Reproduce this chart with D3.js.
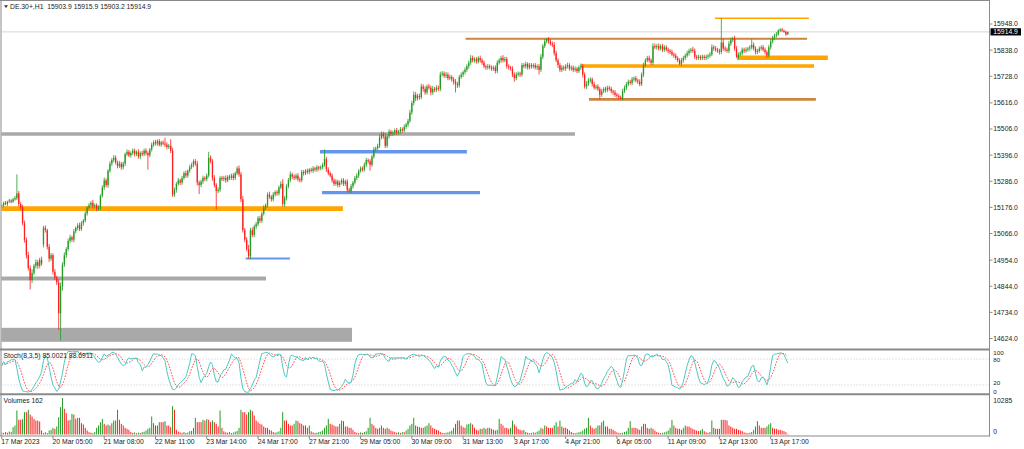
<!DOCTYPE html>
<html><head><meta charset="utf-8">
<script src="https://cdn.jsdelivr.net/npm/d3@7"></script>
<style>html,body{margin:0;padding:0;background:#fff;overflow:hidden}svg{display:block}text{font-family:"Liberation Sans",Arial,sans-serif}</style>
</head><body><svg id="c" width="1024" height="449"></svg>
<script>
// ---------------- DATA ----------------
const symbol = "DE.30+,H1";
const lastBar = {o:15903.9, h:15915.9, l:15903.2, c:15914.9};
const closes = [
15185,15195,15190,15200,15205,15200,15210,15215,15235,15190,
15175,15110,15040,14975,14920,14870,14900,14930,14945,14930,
14955,14940,15090,15080,15010,14960,14975,14905,14880,14860,
14730,14845,14935,14975,15000,15035,15050,15040,15075,15090,
15100,15085,15110,15120,15150,15175,15185,15195,15180,15185,
15170,15175,15225,15260,15290,15270,15330,15360,15375,15385,
15365,15350,15360,15345,15360,15400,15410,15395,15405,15415,
15400,15410,15390,15405,15400,15415,15405,15395,15420,15440,
15450,15445,15455,15440,15450,15445,15440,15430,15435,15415,
15230,15250,15275,15290,15280,15300,15320,15310,15330,15345,
15355,15370,15360,15280,15270,15285,15300,15295,15310,15385,
15370,15300,15270,15245,15250,15300,15295,15300,15290,15305,
15300,15310,15300,15320,15340,15315,15210,15080,15040,15000,
14970,15080,15060,15095,15105,15130,15120,15150,15175,15185,
15230,15220,15210,15230,15240,15235,15260,15275,15190,15215,
15265,15290,15315,15305,15300,15310,15295,15290,15325,15320,
15330,15325,15335,15330,15340,15335,15345,15340,15345,15355,
15380,15335,15320,15310,15290,15275,15285,15270,15280,15290,
15275,15285,15250,15245,15265,15280,15300,15310,15330,15340,
15335,15355,15375,15370,15355,15390,15420,15425,15435,15470,
15485,15475,15435,15475,15495,15485,15490,15500,15490,15495,
15505,15500,15515,15525,15540,15575,15615,15650,15635,15645,
15640,15685,15675,15660,15685,15680,15660,15675,15670,15680,
15675,15735,15740,15730,15735,15720,15725,15715,15705,15695,
15690,15725,15735,15745,15755,15770,15785,15805,15795,15800,
15790,15805,15795,15785,15770,15765,15770,15765,15760,15765,
15750,15785,15795,15805,15795,15800,15770,15765,15760,15735,
15720,15735,15740,15735,15775,15770,15780,15765,15775,15770,
15775,15765,15770,15755,15810,15855,15875,15885,15875,15865,
15860,15825,15795,15775,15755,15765,15760,15770,15775,15760,
15765,15755,15760,15750,15765,15770,15735,15685,15695,15710,
15715,15695,15680,15685,15675,15650,15665,15675,15670,15680,
15675,15665,15660,15650,15645,15640,15635,15665,15680,15695,
15705,15700,15715,15720,15710,15705,15695,15735,15775,15795,
15805,15795,15785,15855,15850,15855,15845,15855,15840,15850,
15840,15835,15830,15820,15815,15805,15795,15780,15795,15805,
15815,15825,15835,15840,15835,15810,15805,15810,15805,15810,
15805,15810,15815,15820,15850,15845,15840,15835,15830,15870,
15845,15840,15835,15865,15880,15885,15845,15810,15820,15825,
15840,15835,15840,15845,15850,15860,15845,15830,15835,15845,
15850,15840,15830,15815,15850,15875,15890,15900,15905,15920,
15925,15920,15915,15903.9,15914.9];
// opens differ from previous close only at these bars [bar, open]
const gapOpens = [[0,15180],[22,15020]];
// wick lengths above the body / below the body (points)
const highWicks = [
6,5,8,4,7,5,6,9,80,10, 8,12,10,9,14,11,15,8,12,10, 9,13,8,10,6,12,9,7,11,8, 14,15,10,12,8,9,11,7,10,6,
9,12,8,7,10,6,9,8,12,7, 8,10,6,9,12,8,7,10,9,11, 10,8,12,7,9,6,10,8,7,9, 8,6,11,7,9,8,10,7,6,9,
8,10,7,9,6,8,25,10,8,28, 12,9,8,10,7,9,8,11,6,10, 9,8,10,12,9,8,10,7,9,25, 10,9,12,8,10,7,9,8,11,6,
9,8,10,7,9,12,10,14,9,11, 18,10,12,8,10,9,11,8,10,7, 9,12,8,10,7,9,8,11,20,9, 8,10,12,7,9,8,10,7,9,8,
7,9,6,8,10,7,9,6,8,9, 40,8,10,7,9,8,10,7,9,8, 9,7,10,8,9,7,8,10,7,9, 8,10,9,7,9,8,10,7,9,12,
10,9,14,8,10,7,9,8,10,7, 9,8,10,7,9,12,10,14,12,9, 10,12,9,11,8,10,9,12,8,10, 9,12,10,8,11,9,10,8,9,11,
10,8,9,7,10,8,9,12,10,8, 9,7,10,8,9,7,10,8,9,7, 9,10,8,9,12,10,9,8,7,10, 9,10,8,7,9,8,10,7,9,8,
7,9,8,10,12,9,10,3,8,10, 9,12,10,8,9,10,8,9,10,8, 9,8,10,7,9,12,10,9,12,10, 9,8,10,7,9,8,10,7,9,8,
8,9,7,10,8,9,7,10,9,8, 9,8,10,7,9,8,10,9,10,8, 9,10,8,12,10,9,11,8,10,9, 8,9,7,10,8,9,7,8,10,9,
8,10,9,7,12,10,8,9,7,9, 8,9,7,10,12,9,10,8,9,102, 15,10,9,12,10,9,14,10,9,8, 9,8,10,7,9,25,10,9,8,9,
8,10,9,7,10,9,8,7,9,6, 5,6,4,5,1];
const lowWicks = [
6,8,5,9,6,7,5,6,8,10, 9,10,12,14,10,40,12,9,11,13, 10,9,12,10,11,14,9,12,10,11, 70,115,20,10,12,8,10,9,11,8,
10,9,8,11,7,9,8,10,9,8, 10,9,12,8,10,9,11,8,10,9, 9,10,8,11,9,10,8,7,10,9, 10,8,9,11,8,9,10,60,8,9,
9,8,10,7,9,8,10,9,8,10, 10,9,12,8,10,9,8,10,9,8, 8,10,9,12,38,9,10,8,9,8, 9,12,10,78,9,10,8,9,10,8,
9,8,10,9,8,10,12,10,11,9, 9,12,10,9,11,8,10,9,8,10, 9,8,10,9,8,10,9,8,10,12, 10,9,8,10,9,8,10,9,8,10,
8,9,10,7,9,8,10,9,8,9, 8,10,9,8,10,9,8,10,9,8, 9,8,10,8,9,10,8,9,10,8, 9,8,10,9,25,8,9,10,8,9,
8,10,9,8,10,9,8,10,9,8, 9,10,8,9,10,8,9,10,12,9, 10,9,12,10,9,8,12,10,9,8, 9,10,8,9,10,9,8,10,12,35,
12,9,8,10,9,8,10,9,8,10, 9,8,10,9,8,10,9,8,10,9, 10,9,8,10,9,8,10,9,8,10, 15,9,8,10,9,8,10,9,8,10,
9,8,10,20,9,10,8,9,10,8, 9,10,8,12,10,9,8,10,9,8, 9,10,8,9,8,10,12,9,10,8, 9,10,8,9,10,19,9,8,10,9,
8,9,10,9,8,10,4,9,8,10, 9,8,10,9,8,10,9,8,10,9, 8,9,10,9,8,10,9,8,10,9, 8,10,9,8,10,9,8,5,9,10,
9,8,10,9,8,10,9,8,10,9, 8,9,10,9,8,10,9,8,10,9, 10,9,8,10,9,8,10,4,9,8, 9,10,8,9,10,9,8,10,9,8,
9,8,10,9,8,10,9,8,9,7, 6,5,4,6,0.7];
const volumes = [
600,450,700,500,850,650,2070,2540,6760,4130, 4130,4320,6290,6290,6950,5630,5070,4410,3940,3940,
3660,1130,380,660,380,1130,1310,1880,1600,2250, 4880,7700,10285,7230,6010,3940,4130,5820,5630,4410,
4700,4700,3190,2820,1880,1130,660,500,380,700, 1880,2540,3470,4410,3000,2540,2820,2540,3190,3940,
3940,6950,4130,3000,2540,1880,1600,1310,700,450, 600,350,500,400,650,800,1130,1600,1880,5070,
3190,2540,2540,3470,3470,3470,3760,2540,2540,2070, 7980,6950,1310,800,600,450,700,400,550,900,
1000,1880,4700,3470,3470,3470,4130,3940,4320,4130, 3470,3940,3470,3000,2250,6760,1880,900,600,500,
700,400,550,800,1000,1880,6950,6290,6290,5630, 6290,6950,6570,5350,3940,3470,3000,2820,2250,1880,
1880,1310,1130,700,500,650,900,1880,6290,3940, 3940,3000,2540,2540,3000,3940,3760,3190,3000,2540,
2540,1880,2540,900,600,450,500,700,800,1130, 1880,2540,4410,3000,2820,2540,2250,2250,3000,3940,
3760,2250,2250,1880,1880,1310,700,500,400,600, 450,700,900,1880,4700,3000,2540,1880,1600,1880,
2540,1880,1600,1880,1600,1130,900,700,500,600, 450,660,660,1130,1600,2540,3000,4700,2540,2250,
2070,1880,1880,2250,2540,3190,2540,1880,1600,1310, 1130,700,450,380,500,600,800,1130,1880,3000,
3940,3940,2540,2070,1880,2820,3000,3190,2820,1880, 1310,1130,1600,1600,1880,1600,1880,1880,1600,1310,
1130,1310,4410,3000,2540,1880,1880,1600,1880,3940, 2820,2250,1600,1310,1130,1310,700,500,380,450,
600,500,800,1130,1880,1600,2540,2250,1880,1880, 1880,2540,3470,2250,3940,2250,1880,1880,1600,1130,
700,450,380,500,650,800,1130,1600,1880,4700, 2540,1880,1600,1880,2540,2540,3470,3940,2250,2250,
1600,1600,1310,940,600,450,380,500,700,900, 1880,3760,1880,1880,1880,1600,1310,2250,3000,3000,
1880,1600,1880,1600,1130,700,500,380,450,600, 800,1130,1880,4130,2540,1880,1600,1600,1310,1880,
2540,2250,2250,1880,1600,1310,1130,940,1130,1600, 940,600,450,700,3940,1880,1600,1600,1600,4130,
4130,4130,3940,2540,2250,1880,1600,1600,1310,1130, 940,600,450,380,500,700,1310,2250,3760,2540,
1880,1880,1880,2250,2820,3190,1880,1600,1600,1310, 1310,1130,940,660,162];
const priceTicks = [15948,15838,15728,15616,15506,15396,15286,15176,15066,14954,14844,14734,14624];
const timeLabels = ["17 Mar 2023","20 Mar 05:00","21 Mar 08:00","22 Mar 11:00","23 Mar 14:00","24 Mar 17:00",
  "27 Mar 21:00","29 Mar 05:00","30 Mar 09:00","31 Mar 13:00","3 Apr 17:00","4 Apr 21:00","6 Apr 05:00",
  "11 Apr 09:00","12 Apr 13:00","13 Apr 17:00"];
const timeLabelEvery = 27;           // bars between time labels
const stochK = 8, stochSlow = 3, stochD = 5;
const stochTitle = "Stoch(8,3,5) 85.0021 88.6911";
const stochLevels = [80, 20];
const stochAxis = [100, 80, 20, 0];
const volumeTitle = "Volumes 162";
const volumeMax = 10285;
const volumeAxis = [10285, 0];
// drawn horizontal levels: price, first bar, last bar, kind
const levelPrice = [15171, 15485, 14877, 15410, 15238, 14961, 15886, 15972, 15806, 15771, 15631];
const levelFrom  = [-1, -1, -1, 167.6, 168.7, 128.5, 244.3, 375.6, 387.2, 305.1, 309.3];
const levelTo    = [179.7, 301.9, 139.2, 245.0, 251.9, 151.8, 424.1, 425.1, 435.1, 427.8, 428.8];
const levelKind  = ["orangeThick","grayMid","gray","blue","blue","blueThin","peru","orangeThin","orangeThick","orangeMid","peruMid"];
// drawn zone (rectangle): low price, high price, first bar, last bar
const zoneLow = [14610], zoneHigh = [14669], zoneFrom = [-1], zoneTo = [184.5];

// ---------------- STYLE ----------------
const kindStyle = {
  orangeThick:{c:"#ffa500",w:4.7}, orangeMid:{c:"#ffa500",w:3.4}, orangeThin:{c:"#ffa500",w:1.4},
  gray:{c:"#a9a9a9",w:4}, grayMid:{c:"#a9a9a9",w:3.4},
  blue:{c:"#6495ed",w:3.4}, blueThin:{c:"#6495ed",w:2},
  peru:{c:"#cd853f",w:2}, peruMid:{c:"#cd853f",w:2.7}
};
const UP="#249a24", DN="#ff1e1e", FRAME="#8a8a8a", TXT="#222";
const FS = 6.8;

// ---------------- BUILD ----------------
const svg = d3.select("#c");
const plotL=1.5, plotR=989.5;
const mainTop=1, mainBot=348.5, stTop=350.5, stBot=393.5, vTop=395, vBot=435.5;

const gapMap = new Map(gapOpens);
const bars = closes.map((c,i)=>{
  const o = gapMap.has(i) ? gapMap.get(i) : closes[i-1];
  return {i, o, c, h: Math.max(o,c)+highWicks[i], l: Math.min(o,c)-lowWicks[i], v: volumes[i]};
});

const x = d3.scaleLinear().domain([0, 405]).range([1.7, 770.7]);
const y = d3.scaleLinear().domain([14624, 15948]).range([338.5, 24]);
const yS = d3.scaleLinear().domain([0,100]).range([stBot, stTop]);
const yV = d3.scaleLinear().domain([0, volumeMax]).range([434.5, 398]);

const defs = svg.append("defs");
function clip(id, y0, y1){
  defs.append("clipPath").attr("id",id).append("rect")
    .attr("x",plotL).attr("y",y0).attr("width",plotR-plotL).attr("height",y1-y0);
}
clip("cm", mainTop, mainBot); clip("cs", stTop, stBot); clip("cv", vTop, vBot);

// main panel
const gm = svg.append("g").attr("clip-path","url(#cm)");
gm.append("line").attr("x1",plotL).attr("x2",plotR)
  .attr("y1",y(lastBar.c)).attr("y2",y(lastBar.c)).attr("stroke","#d6d6d6").attr("stroke-width",1);

gm.selectAll(".zone").data(zoneLow.map((lo,k)=>({lo,hi:zoneHigh[k],a:zoneFrom[k],b:zoneTo[k]})))
  .join("rect").attr("x",d=>x(d.a)).attr("width",d=>x(d.b)-x(d.a))
  .attr("y",d=>y(d.hi)).attr("height",d=>y(d.lo)-y(d.hi)).attr("fill","#a9a9a9");

gm.selectAll(".lvl").data(levelPrice.map((p,k)=>({p,a:levelFrom[k],b:levelTo[k],s:kindStyle[levelKind[k]]})))
  .join("line").attr("x1",d=>x(d.a)).attr("x2",d=>x(d.b)).attr("y1",d=>y(d.p)).attr("y2",d=>y(d.p))
  .attr("stroke",d=>d.s.c).attr("stroke-width",d=>d.s.w);

const cg = gm.append("g");
cg.selectAll(".wk").data(bars).join("line")
  .attr("x1",d=>x(d.i)).attr("x2",d=>x(d.i)).attr("y1",d=>y(d.h)).attr("y2",d=>y(d.l))
  .attr("stroke",d=>d.c>=d.o?UP:DN).attr("stroke-width",0.8);
cg.selectAll(".bd").data(bars).join("rect")
  .attr("x",d=>x(d.i)-0.65).attr("width",1.3)
  .attr("y",d=>y(Math.max(d.o,d.c)))
  .attr("height",d=>Math.max(0.8, y(Math.min(d.o,d.c))-y(Math.max(d.o,d.c))))
  .attr("fill",d=>d.c>=d.o?UP:DN);

// header
svg.append("path").attr("d","M4,5.2L8,5.2L6,8z").attr("fill","#333");
svg.append("text").attr("x",10).attr("y",9).attr("font-size",FS).attr("fill",TXT)
  .style("white-space","pre")
  .text(`${symbol}  ${lastBar.o.toFixed(1)} ${lastBar.h.toFixed(1)} ${lastBar.l.toFixed(1)} ${lastBar.c.toFixed(1)}`);

// stochastic
const kv = bars.map((b,i)=>{
  let num=0, den=0;
  for(let j=Math.max(0,i-stochSlow+1); j<=i; j++){
    const win = bars.slice(Math.max(0,j-stochK+1), j+1);
    const ll = d3.min(win,d=>d.l), hh = d3.max(win,d=>d.h);
    num += bars[j].c-ll; den += hh-ll;
  }
  return den===0?50:num/den*100;
});
const dv = kv.map((_,i)=>d3.mean(kv.slice(Math.max(0,i-stochD+1),i+1)));
const gs = svg.append("g").attr("clip-path","url(#cs)");
gs.selectAll(".sl").data(stochLevels).join("line").attr("x1",plotL).attr("x2",plotR)
  .attr("y1",d=>yS(d)).attr("y2",d=>yS(d)).attr("stroke","#bdbdbd").attr("stroke-width",0.8).attr("stroke-dasharray","1,2");
const ln = d3.line().x((d,i)=>x(i)).y(d=>yS(d));
gs.append("path").attr("d",ln(dv)).attr("fill","none").attr("stroke","#ff3a3a").attr("stroke-width",0.9).attr("stroke-dasharray","1.6,1.4");
gs.append("path").attr("d",ln(kv)).attr("fill","none").attr("stroke","#4cc9c1").attr("stroke-width",1);
svg.append("text").attr("x",3.5).attr("y",358).attr("font-size",FS).attr("fill",TXT).text(stochTitle);

// volumes
const gv = svg.append("g").attr("clip-path","url(#cv)");
gv.selectAll(".vb").data(bars).join("line")
  .attr("x1",d=>x(d.i)).attr("x2",d=>x(d.i)).attr("y1",yV(0)).attr("y2",d=>yV(d.v))
  .attr("stroke",(d,i)=> i>0 && d.v>bars[i-1].v ? UP : DN).attr("stroke-width",1);
svg.append("text").attr("x",3.5).attr("y",403.3).attr("font-size",FS).attr("fill",TXT).text(volumeTitle);

// frame
const fr = svg.append("g").attr("stroke",FRAME);
fr.append("line").attr("x1",1).attr("x2",1).attr("y1",0).attr("y2",436);
fr.append("line").attr("x1",0).attr("x2",plotR).attr("y1",0.5).attr("y2",0.5);
fr.append("line").attr("x1",plotR).attr("x2",plotR).attr("y1",0).attr("y2",436.3);
fr.append("line").attr("x1",0).attr("x2",plotR+0.5).attr("y1",349.5).attr("y2",349.5).attr("stroke-width",2);
fr.append("line").attr("x1",0).attr("x2",plotR+0.5).attr("y1",394.2).attr("y2",394.2).attr("stroke-width",2);
fr.append("line").attr("x1",0).attr("x2",plotR+0.5).attr("y1",436).attr("y2",436).attr("stroke-width",1.2);

// price axis
const pa = svg.append("g");
pa.selectAll("line").data(priceTicks).join("line").attr("x1",plotR).attr("x2",plotR+3)
  .attr("y1",d=>y(d)).attr("y2",d=>y(d)).attr("stroke",FRAME);
pa.selectAll("text").data(priceTicks).join("text").attr("x",993.3).attr("y",d=>y(d)+2.4)
  .attr("font-size",FS).attr("fill",TXT).text(d=>d.toFixed(1));
svg.append("rect").attr("x",990.5).attr("y",y(lastBar.c)-3.6).attr("width",30.5).attr("height",7.2).attr("fill","#000");
svg.append("text").attr("x",993.3).attr("y",y(lastBar.c)+2.4).attr("font-size",FS).attr("fill","#fff").text(lastBar.c.toFixed(1));

// stoch / volume axes (labels kept apart so they do not collide)
const clamp=(v,a,b)=>Math.max(a,Math.min(b,v));
const stochLabelY = v => v===100 ? stTop+2.6 : v===0 ? stBot-1.6 : v===20 ? yS(v)-1.6 : yS(v)+0.8;
svg.append("g").selectAll("text").data(stochAxis).join("text").attr("x",993.3)
  .attr("y",d=>stochLabelY(d)+2.1).attr("font-size",6.2).attr("fill",TXT).text(d=>d);
svg.append("g").selectAll("text").data(volumeAxis).join("text").attr("x",993.3)
  .attr("y",d=>clamp(yV(d),vTop+5.3,vBot-3.8)+2.4).attr("font-size",FS).attr("fill",TXT).text(d=>d);

// time axis
const ta = svg.append("g");
const tIdx = timeLabels.map((t,k)=>({t, i:k*timeLabelEvery}));
ta.selectAll("line").data(tIdx).join("line").attr("x1",d=>x(d.i)).attr("x2",d=>x(d.i))
  .attr("y1",436).attr("y2",439).attr("stroke",FRAME);
ta.selectAll("text").data(tIdx).join("text").attr("x",d=>x(d.i)-0.4).attr("y",443.6)
  .attr("font-size",FS).attr("fill",TXT).text(d=>d.t);
</script></body></html>
